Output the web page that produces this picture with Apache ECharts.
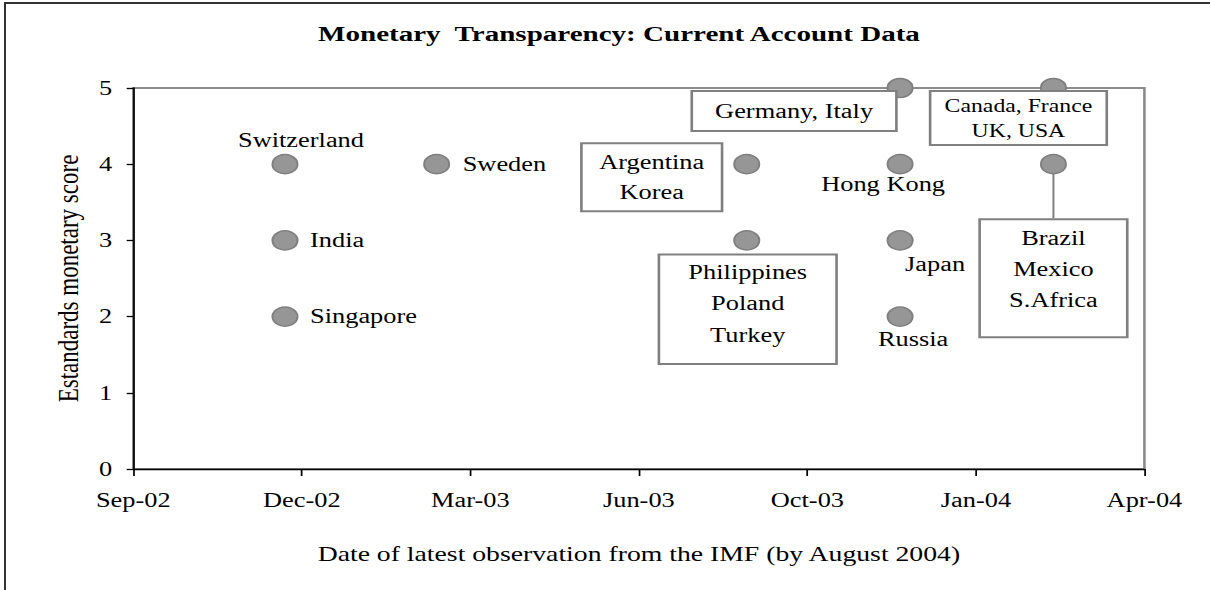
<!DOCTYPE html>
<html>
<head>
<meta charset="utf-8">
<title>Monetary Transparency: Current Account Data</title>
<script src="https://cdn.jsdelivr.net/npm/echarts@6/dist/echarts.min.js"></script>
<style>
  html, body { margin: 0; padding: 0; background: #fff; overflow: hidden; }
  /* the original is an Excel chart pulled wide, so draw it narrow and stretch it */
  #chart { position: absolute; left: 0; top: 0; width: 917px; height: 590px; transform: scaleX(1.32); transform-origin: 0 0; }
  #frame { position: absolute; left: 4px; top: 2px; width: 1230px; height: 610px; border-left: 2px solid #333; border-top: 2px solid #333; }
</style>
</head>
<body>
<div id="chart"></div>
<div id="frame"></div>
<script>
const STRETCH = 1.32;

// date of latest IMF observation, standards score, country group
const dates = ['2002-11-30', '2002-11-30', '2002-11-30', '2003-02-28', '2003-08-31', '2003-08-31',
               '2003-11-30', '2003-11-30', '2003-11-30', '2003-11-30', '2004-02-29', '2004-02-29'];
const scores = [4, 3, 2, 4, 4, 3, 5, 4, 3, 2, 5, 4];
const countries = ['Switzerland', 'India', 'Singapore', 'Sweden', 'Argentina\nKorea', 'Philippines\nPoland\nTurkey',
                   'Germany, Italy', 'Hong Kong', 'Japan', 'Russia', 'Canada, France\nUK, USA', 'Brazil\nMexico\nS.Africa'];

// x axis runs on Excel day numbers, a tick every 100 days
const xMin = 37500, xMax = 38100, xStep = 100;
const xTickLabels = ['Sep-02', 'Dec-02', 'Mar-03', 'Jun-03', 'Oct-03', 'Jan-04', 'Apr-04'];
const yTicks = [0, 1, 2, 3, 4, 5];

const serial = d => (Date.parse(d) - Date.UTC(1899, 11, 30)) / 86400000;

// where each label sits around its point (offsets in screen px)
// boxed labels hang from their top edge
const box = { backgroundColor: '#fff', borderColor: '#808080', borderWidth: 2, verticalAlign: 'top' };
const labelStyles = [
  { offset: [16, -24] },
  { align: 'left', offset: [25, 0] },
  { align: 'left', offset: [25, 0] },
  { align: 'left', offset: [26, 0] },
  { ...box, offset: [-95, -20], width: 138, lineHeight: 30, padding: [3, 0, 3, 0] },
  { ...box, offset: [1, 15], width: 175, lineHeight: 31.5, padding: [1, 0, 12, 0] },
  { ...box, offset: [-106, 4], width: 202, lineHeight: 24, padding: [7, 0, 7, 0] },
  { offset: [-17, 20] },
  { offset: [35, 24] },
  { offset: [13, 23] },
  { ...box, offset: [-35, 4], width: 174, lineHeight: 25, padding: [2, 0, 0, 0], fontSize: 18 },
  { ...box, offset: [0, 56], width: 145, lineHeight: 31, padding: [2, 0, 21, 0] }
];

const points = dates.map((d, i) => {
  const st = labelStyles[i];
  const label = { ...st, offset: [st.offset[0] / STRETCH, st.offset[1]] };
  if (st.width) label.width = st.width / STRETCH;
  const item = { name: countries[i], value: [serial(d), scores[i]], label: label };
  if (i === 11) item.labelLine = { show: true, lineStyle: { color: '#808080', width: 1.5 } };
  return item;
});

const font = 'Liberation Serif';
const chart = echarts.init(document.getElementById('chart'), null, { renderer: 'svg' });
chart.setOption({
  backgroundColor: '#fff',
  animation: false,
  title: {
    text: 'Monetary  Transparency: Current Account Data',
    left: 236,
    top: 18,
    textStyle: { fontFamily: font, fontSize: 22, fontWeight: 'bold', color: '#000' }
  },
  grid: {
    left: 101, right: 50, top: 88, bottom: 121,
    show: true, borderColor: '#8c8c8c', borderWidth: 2, backgroundColor: 'transparent'
  },
  xAxis: {
    type: 'value',
    min: xMin, max: xMax, interval: xStep,
    name: 'Date of latest observation from the IMF (by August 2004)',
    nameLocation: 'middle',
    nameGap: 74,
    nameTextStyle: { fontFamily: font, fontSize: 21, color: '#000' },
    axisLine: { lineStyle: { color: '#000', width: 1.3 } },
    axisTick: { length: 7, lineStyle: { color: '#000', width: 1.3 } },
    axisLabel: {
      fontFamily: font, fontSize: 20, color: '#000', margin: 21,
      formatter: v => xTickLabels[Math.round((v - xMin) / xStep)]
    },
    splitLine: { show: false }
  },
  yAxis: {
    type: 'value',
    min: yTicks[0], max: yTicks[yTicks.length - 1], interval: 1,
    name: 'Estandards monetary score',
    nameLocation: 'middle',
    nameGap: 38,
    nameTextStyle: { fontFamily: font, fontSize: 23, color: '#000' },
    axisLine: { show: true, lineStyle: { color: '#000', width: 1.3 } },
    axisTick: { show: true, length: 5, lineStyle: { color: '#000', width: 1.3 } },
    axisLabel: { fontFamily: font, fontSize: 20, color: '#000', margin: 16 },
    splitLine: { show: false }
  },
  series: [{
    type: 'scatter',
    clip: false,
    symbol: 'circle',
    symbolSize: 19,
    itemStyle: { color: '#969696', borderColor: '#7f7f7f', borderWidth: 1.5, opacity: 1 },
    label: {
      show: true,
      position: 'inside',
      formatter: '{b}',
      align: 'center',
      verticalAlign: 'middle',
      fontFamily: font,
      fontSize: 20,
      color: '#000'
    },
    emphasis: { disabled: true },
    data: points
  }]
});
</script>
</body>
</html>
